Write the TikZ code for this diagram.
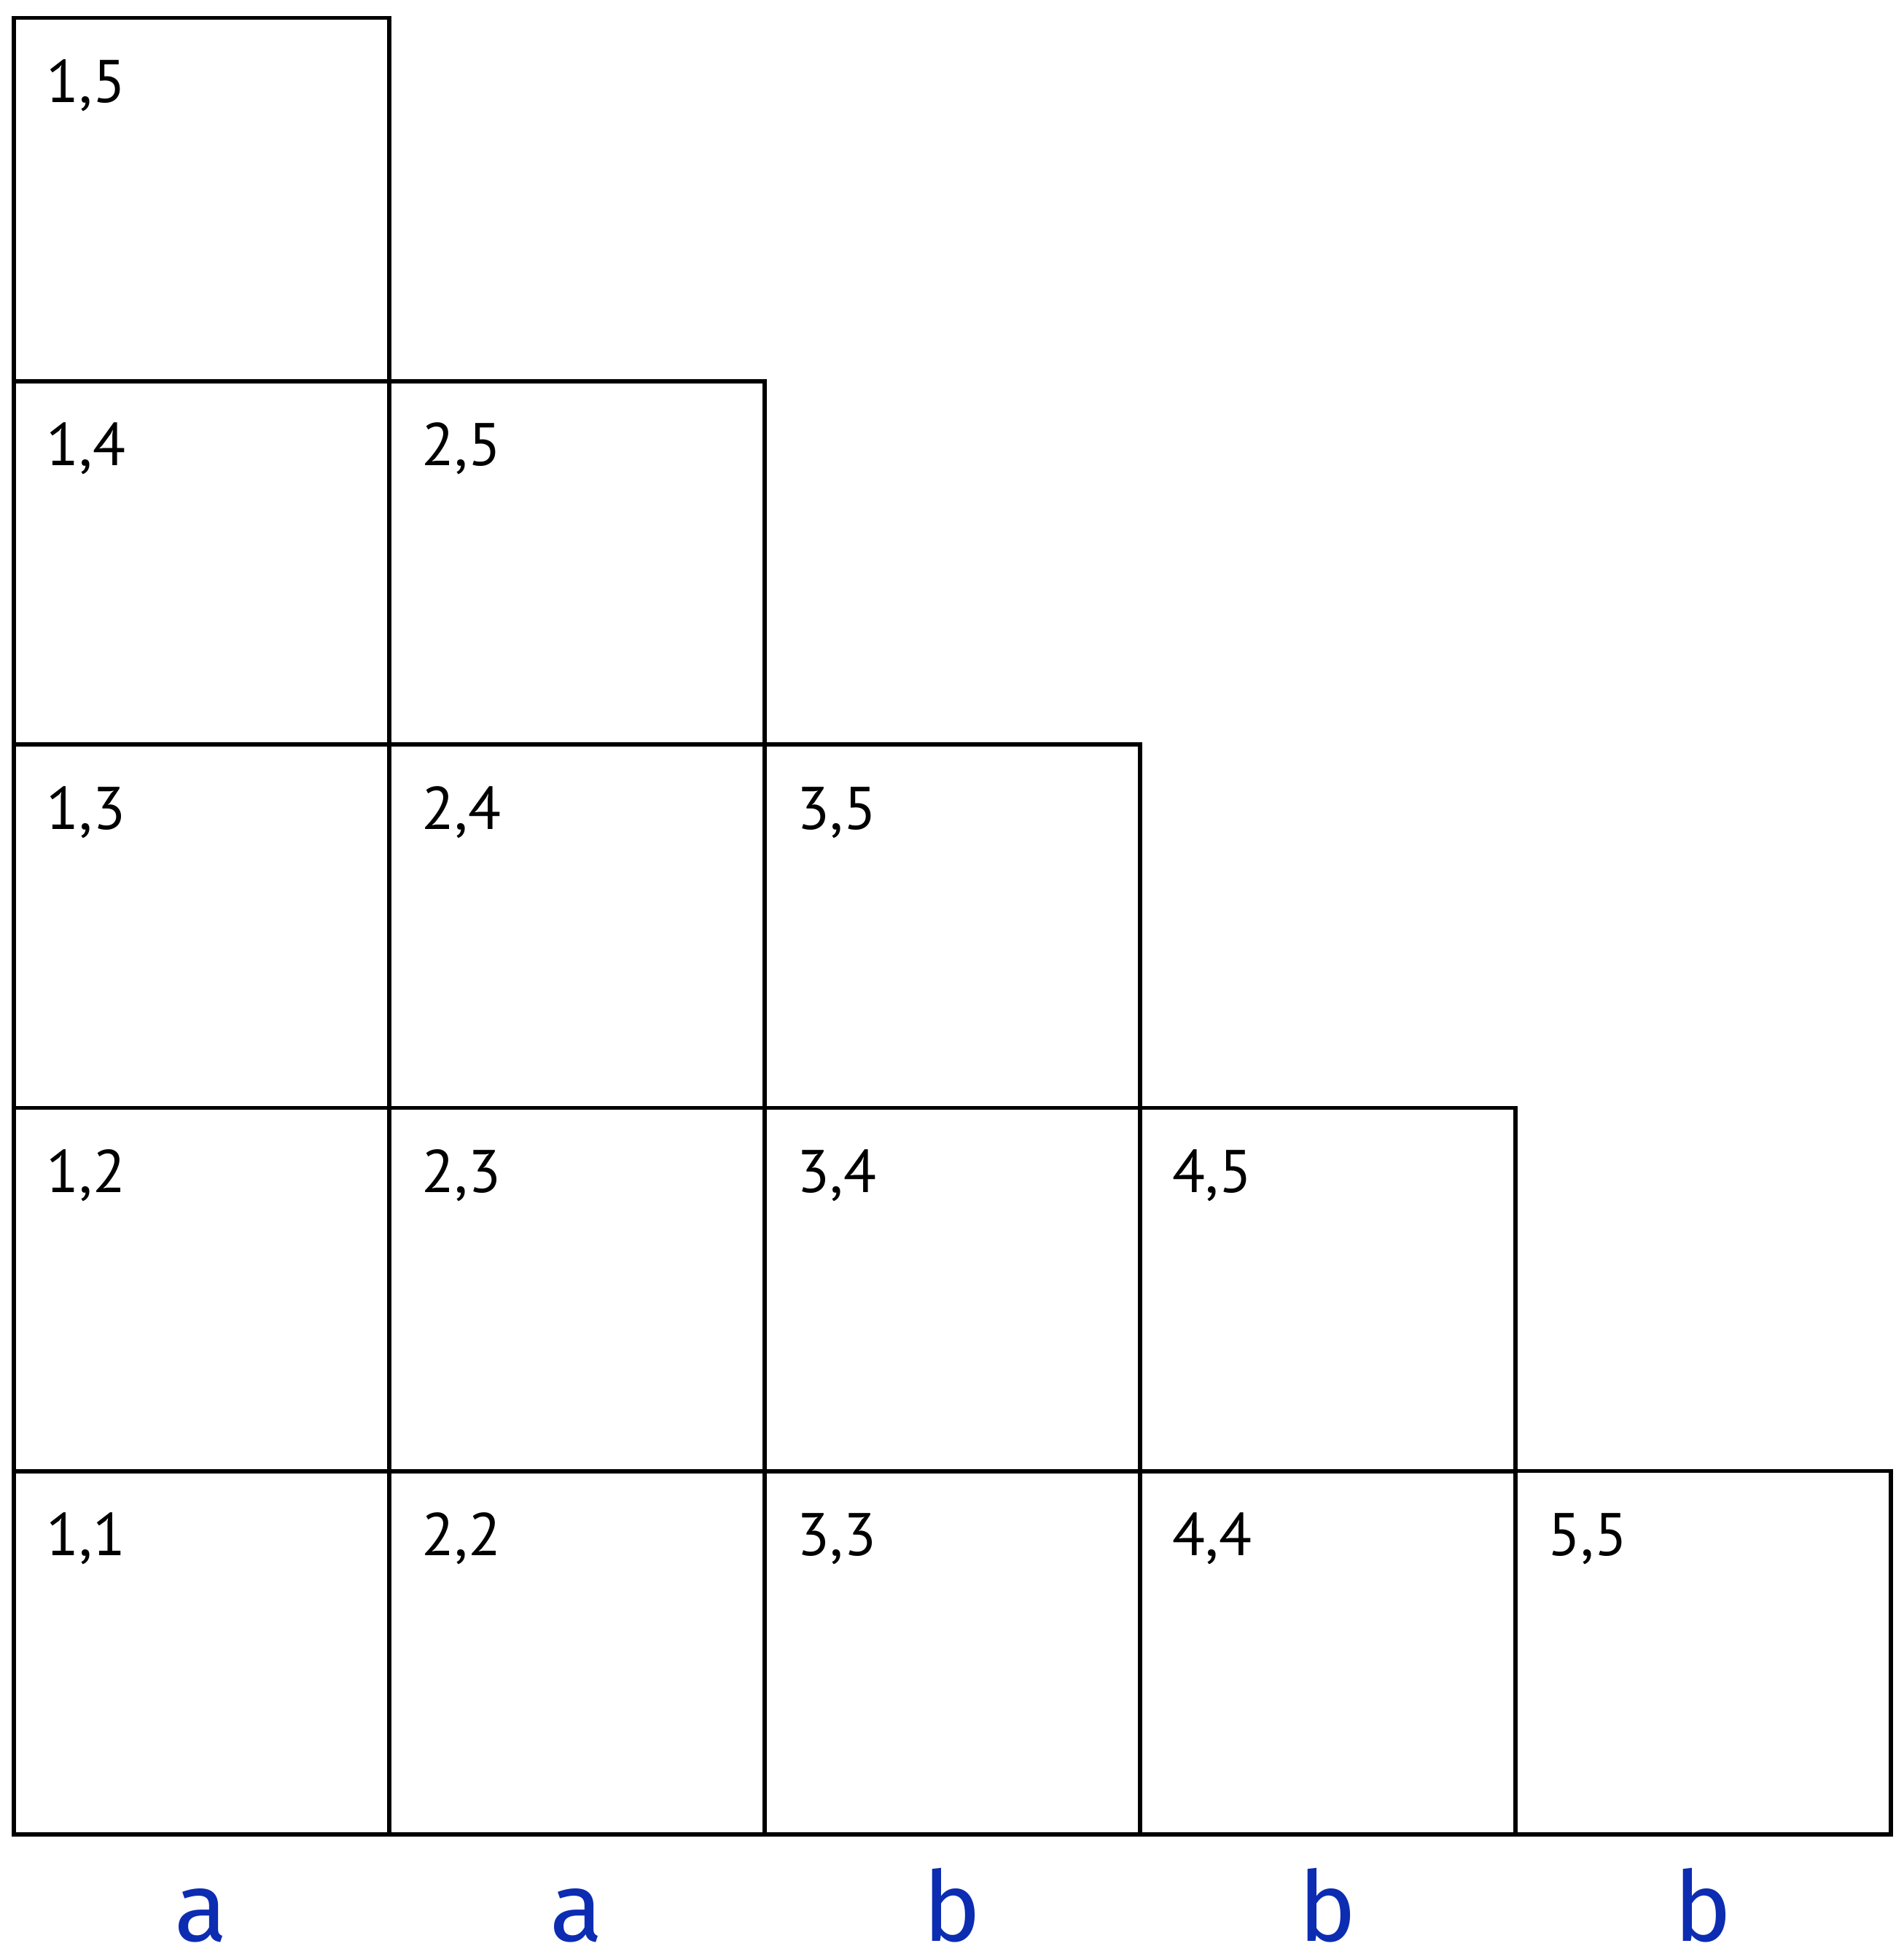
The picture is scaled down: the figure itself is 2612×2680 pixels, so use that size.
\documentclass[tikz,border=0pt]{standalone}
\usepackage{fontspec}
\setmainfont{PT Sans}
\newfontfamily\letterfont{Fira Sans}
\definecolor{lblue}{RGB}{12,44,178}
\begin{document}
\begin{tikzpicture}[x=0.01cm,y=-0.01cm,
  cellbox/.style={draw=black,line width=0.055cm,minimum width=5.15cm,minimum height=4.982cm,inner sep=0pt,outer sep=0pt,anchor=south west},
  celllabel/.style={anchor=base west,inner sep=0pt,font=\fontsize{23.5}{25}\selectfont},
  collabel/.style={anchor=base,inner sep=0pt,text depth=0pt,text=lblue,font=\letterfont\fontsize{38}{40}\selectfont}]
\useasboundingbox (0,0) rectangle (2612,2680);
\foreach \i in {1,...,5}{
  \foreach \k in {\i,...,5}{
    \pgfmathsetmacro{\xl}{18.8+(\i-1)*515}
    \pgfmathsetmacro{\yb}{2516-(\k-\i)*498.2}
    \node[cellbox] (c\i\k) at (\xl,\yb) {};
    \node[celllabel] (t\i\k) at ([xshift=0.44cm,yshift=-1.16cm]c\i\k.north west) {\i,\k};
  }
}
\node[collabel] (l1) at (276,2662) {a};
\node[collabel] (l2) at (791,2662) {a};
\node[collabel] (l3) at (1306,2662) {b};
\node[collabel] (l4) at (1821,2662) {b};
\node[collabel] (l5) at (2336,2662) {b};
\end{tikzpicture}
\end{document}
